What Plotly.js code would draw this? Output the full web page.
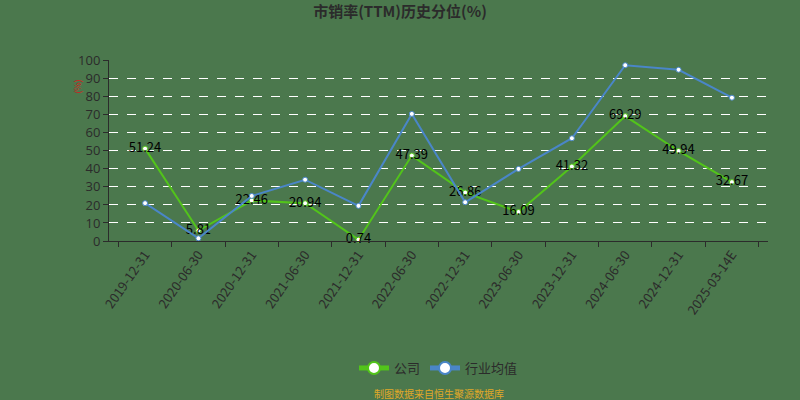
<!DOCTYPE html>
<html>
<head>
<meta charset="utf-8">
<script src="https://cdn.plot.ly/plotly-3.0.1.min.js"></script>
<style>
  html, body { margin: 0; padding: 0; background: #4b784d; }
  #chart { width: 800px; height: 400px; }
</style>
</head>
<body>
<div id="chart"></div>
<script>
// Chart data
const dates = ['2019-12-31', '2020-06-30', '2020-12-31', '2021-06-30', '2021-12-31', '2022-06-30',
    '2022-12-31', '2023-06-30', '2023-12-31', '2024-06-30', '2024-12-31', '2025-03-14E'];
const companyValues = [51.24, 5.81, 22.46, 20.94, 0.74, 47.39, 26.86, 16.09, 41.32, 69.29, 49.94, 32.67];
const industryValues = [21, 1.5, 25, 34, 19.5, 70.5, 21.5, 40, 57, 97.5, 95, 79.5];

const BG = '#4b784d';
const FONT = '"Noto Sans CJK SC", "Noto Sans", sans-serif';

const traces = [
    {
        type: 'scatter',
        mode: 'lines+markers+text',
        x: dates,
        y: companyValues,
        name: '公司',
        text: companyValues.map(v => v.toFixed(2)),
        textposition: 'middle center',
        textfont: { color: '#000', size: 13, family: FONT },
        line: { color: '#52c41a', width: 2 },
        marker: { color: '#fff', size: 5, line: { color: '#52c41a', width: 1 } },
        cliponaxis: false
    },
    {
        type: 'scatter',
        mode: 'lines+markers',
        x: dates,
        y: industryValues,
        name: '行业均值',
        line: { color: '#4a86c8', width: 2 },
        marker: { color: '#fff', size: 5, line: { color: '#4a86c8', width: 1 } }
    }
];

const layout = {
    width: 800,
    height: 400,
    paper_bgcolor: BG,
    plot_bgcolor: BG,
    font: { family: FONT, color: '#2b2b2b', size: 12 },
    margin: { l: 109, r: 32, t: 60, b: 159, autoexpand: false },
    title: {
        text: '<b>市销率(TTM)历史分位(%)</b>',
        font: { size: 15, color: '#2b2b2b', family: FONT },
        x: 0.5, xanchor: 'center',
        yref: 'container', y: 0.97, yanchor: 'middle'
    },
    xaxis: {
        type: 'category',
        tickangle: -55,
        tickson: 'boundaries',
        ticks: 'outside',
        ticklen: 5,
        tickcolor: '#2b2b2b',
        showline: true,
        linecolor: '#2b2b2b',
        linewidth: 1,
        showgrid: false,
        tickfont: { size: 13, color: '#2b2b2b' }
    },
    yaxis: {
        range: [0, 100.4],
        tickvals: [0, 10, 20, 30, 40, 50, 60, 70, 80, 90, 100],
        ticks: 'outside',
        ticklen: 5,
        tickcolor: '#2b2b2b',
        showline: true,
        linecolor: '#2b2b2b',
        linewidth: 1,
        gridcolor: '#ffffff',
        griddash: 'dash',
        gridwidth: 1,
        zeroline: false,
        tickfont: { size: 13, color: '#2b2b2b', family: '"Open Sans", sans-serif' }
    },
    showlegend: true,
    legend: {
        orientation: 'h',
        itemsizing: 'constant',
        x: 0.5, xanchor: 'center', xref: 'paper',
        yref: 'container', y: 0.08, yanchor: 'middle',
        bgcolor: 'rgba(0,0,0,0)',
        font: { size: 13, color: '#2b2b2b' }
    },
    annotations: [
        {
            text: '(%)',
            xref: 'paper', yref: 'paper',
            x: -0.062, y: 0.9,
            showarrow: false,
            textangle: -90,
            font: { size: 9, color: '#d02020' }
        },
        {
            text: '制图数据来自恒生聚源数据库',
            xref: 'paper', yref: 'paper',
            x: 0.5, y: -0.84, yanchor: 'middle',
            showarrow: false,
            font: { size: 10, color: '#e0a828' }
        }
    ]
};

Plotly.newPlot('chart', traces, layout, { displayModeBar: false, responsive: false });
</script>
</body>
</html>
